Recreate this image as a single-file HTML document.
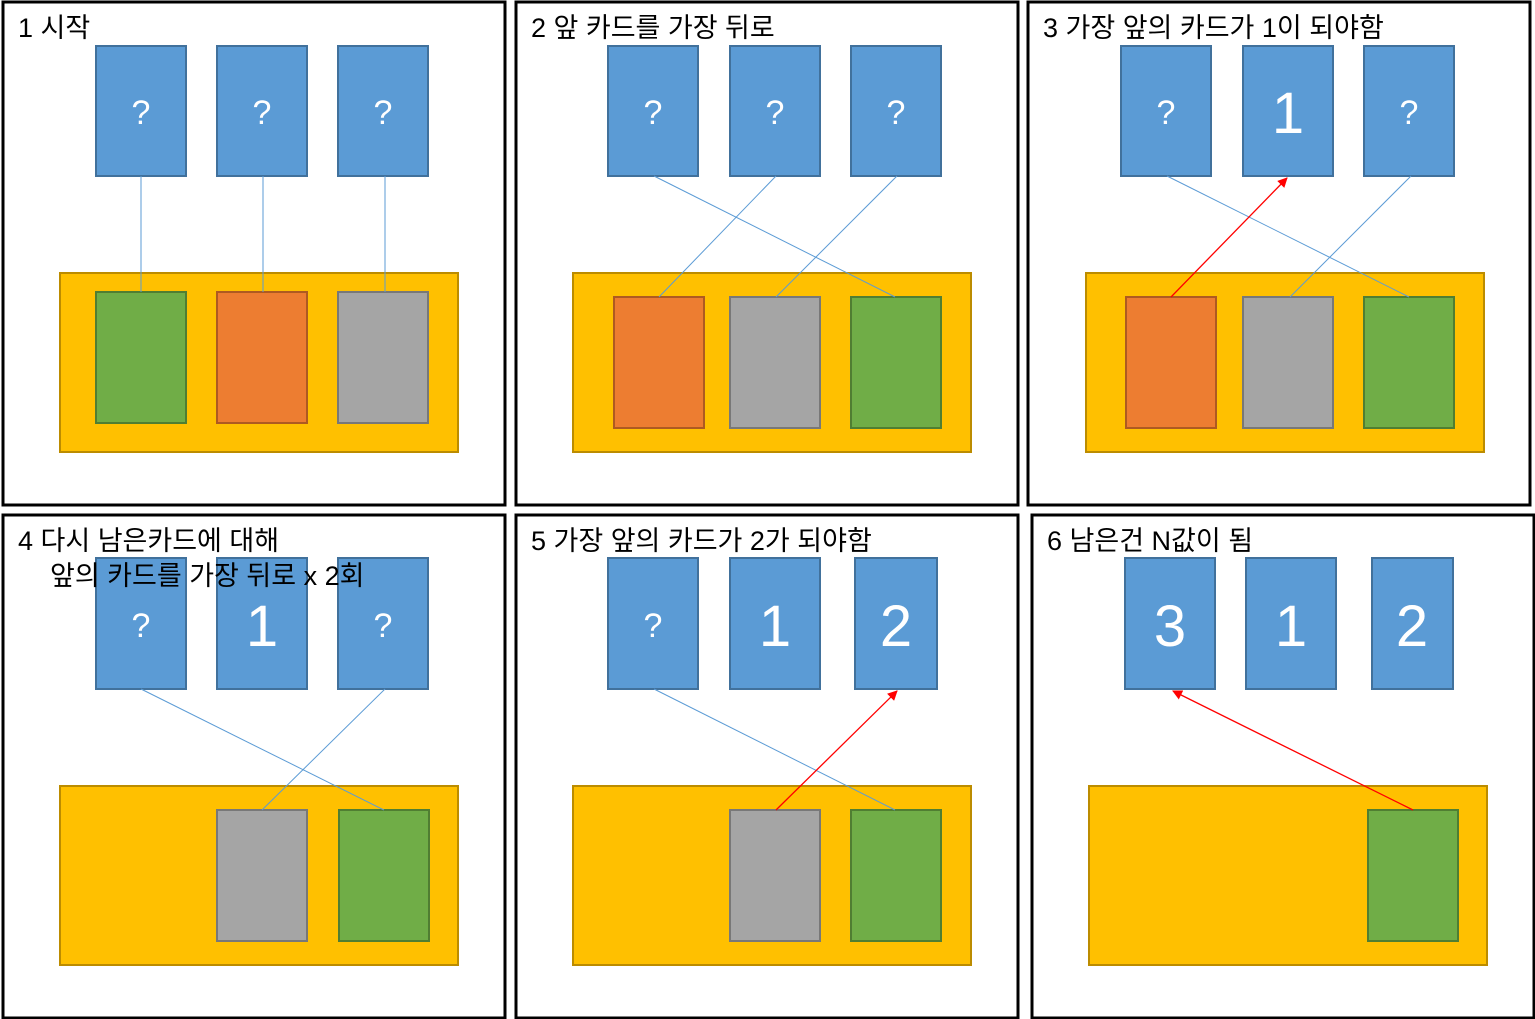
<!DOCTYPE html>
<html><head><meta charset="utf-8"><style>
html,body{margin:0;padding:0;background:#fff;width:1535px;height:1019px;overflow:hidden}
text{font-family:"Liberation Sans","Noto Sans CJK KR","NanumGothic",sans-serif}
.t{font-size:27px;fill:#000}
.q{font-size:34px;fill:#fff;text-anchor:middle}
.n{font-size:58px;fill:#fff;text-anchor:middle}
.b{fill:#5b9bd5;stroke:#41719c;stroke-width:2}
.y{fill:#ffc000;stroke:#bc8c00;stroke-width:2}
.g{fill:#70ad47;stroke:#507e32;stroke-width:2}
.o{fill:#ed7d31;stroke:#ae5a21;stroke-width:2}
.s{fill:#a5a5a5;stroke:#787878;stroke-width:2}
.p{fill:none;stroke:#000;stroke-width:3}
.l{stroke:#5b9bd5;stroke-width:1}
.r{stroke:#ff0000;stroke-width:1.3}
</style></head><body>
<svg width="1535" height="1019" xmlns="http://www.w3.org/2000/svg">
<defs><marker id="a" markerWidth="10" markerHeight="10" refX="9" refY="5" orient="auto" markerUnits="userSpaceOnUse"><path d="M0,0 L10,5 L0,10z" fill="#ff0000"/></marker></defs>
<rect class="p" x="3" y="2" width="502" height="503"/>
<rect class="p" x="516" y="2" width="502" height="503"/>
<rect class="p" x="1028" y="2" width="502" height="503"/>
<rect class="p" x="3" y="515" width="502" height="503"/>
<rect class="p" x="516" y="515" width="502" height="503"/>
<rect class="p" x="1032" y="515" width="502" height="503"/>

<!-- P1 -->
<text class="t" x="18" y="37">1 시작</text>
<rect class="b" x="96" y="46" width="90" height="130"/><text class="q" x="141" y="124">?</text>
<rect class="b" x="217" y="46" width="90" height="130"/><text class="q" x="262" y="124">?</text>
<rect class="b" x="338" y="46" width="90" height="130"/><text class="q" x="383" y="124">?</text>
<rect class="y" x="60" y="273" width="398" height="179"/>
<rect class="g" x="96" y="292" width="90" height="131"/>
<rect class="o" x="217" y="292" width="90" height="131"/>
<rect class="s" x="338" y="292" width="90" height="131"/>
<line class="l" x1="141" y1="176" x2="141" y2="292" stroke="#6c8fb0"/>
<line class="l" x1="263" y1="176" x2="263" y2="292"/>
<line class="l" x1="385" y1="176" x2="385" y2="292"/>

<!-- P2 -->
<text class="t" x="531" y="37">2 앞 카드를 가장 뒤로</text>
<rect class="b" x="608" y="46" width="90" height="130"/><text class="q" x="653" y="124">?</text>
<rect class="b" x="730" y="46" width="90" height="130"/><text class="q" x="775" y="124">?</text>
<rect class="b" x="851" y="46" width="90" height="130"/><text class="q" x="896" y="124">?</text>
<rect class="y" x="573" y="273" width="398" height="179"/>
<rect class="o" x="614" y="297" width="90" height="131"/>
<rect class="s" x="730" y="297" width="90" height="131"/>
<rect class="g" x="851" y="297" width="90" height="131"/>
<line class="l" x1="654" y1="176" x2="895" y2="297"/>
<line class="l" x1="776" y1="176" x2="659" y2="297"/>
<line class="l" x1="897" y1="176" x2="776" y2="297"/>

<!-- P3 -->
<text class="t" x="1043" y="37">3 가장 앞의 카드가 1이 되야함</text>
<rect class="b" x="1121" y="46" width="90" height="130"/><text class="q" x="1166" y="124">?</text>
<rect class="b" x="1243" y="46" width="90" height="130"/><text class="n" x="1288" y="133">1</text>
<rect class="b" x="1364" y="46" width="90" height="130"/><text class="q" x="1409" y="124">?</text>
<rect class="y" x="1086" y="273" width="398" height="179"/>
<rect class="o" x="1126" y="297" width="90" height="131"/>
<rect class="s" x="1243" y="297" width="90" height="131"/>
<rect class="g" x="1364" y="297" width="90" height="131"/>
<line class="l" x1="1167" y1="176" x2="1409" y2="297"/>
<line class="l" x1="1411" y1="176" x2="1290" y2="297"/>
<line class="r" x1="1171" y1="297" x2="1287" y2="178" marker-end="url(#a)"/>

<!-- P4 -->
<rect class="b" x="96" y="558" width="90" height="131"/><text class="q" x="141" y="637">?</text>
<rect class="b" x="217" y="558" width="90" height="131"/><text class="n" x="262" y="646">1</text>
<rect class="b" x="338" y="558" width="90" height="131"/><text class="q" x="383" y="637">?</text>
<text class="t" x="18" y="550">4 다시 남은카드에 대해</text>
<text class="t" x="50" y="585">앞의 카드를 가장 뒤로 x 2회</text>
<rect class="y" x="60" y="786" width="398" height="179"/>
<rect class="s" x="217" y="810" width="90" height="131"/>
<rect class="g" x="339" y="810" width="90" height="131"/>
<line class="l" x1="141" y1="689" x2="384" y2="810"/>
<line class="l" x1="385" y1="689" x2="262" y2="810"/>

<!-- P5 -->
<text class="t" x="531" y="550">5 가장 앞의 카드가 2가 되야함</text>
<rect class="b" x="608" y="558" width="90" height="131"/><text class="q" x="653" y="637">?</text>
<rect class="b" x="730" y="558" width="90" height="131"/><text class="n" x="775" y="646">1</text>
<rect class="b" x="855" y="558" width="82" height="131"/><text class="n" x="896" y="646">2</text>
<rect class="y" x="573" y="786" width="398" height="179"/>
<rect class="s" x="730" y="810" width="90" height="131"/>
<rect class="g" x="851" y="810" width="90" height="131"/>
<line class="l" x1="654" y1="689" x2="895" y2="810"/>
<line class="r" x1="776" y1="810" x2="897" y2="691" marker-end="url(#a)"/>

<!-- P6 -->
<text class="t" x="1047" y="550">6 남은건 N값이 됨</text>
<rect class="b" x="1125" y="558" width="90" height="131"/><text class="n" x="1170" y="646">3</text>
<rect class="b" x="1246" y="558" width="90" height="131"/><text class="n" x="1291" y="646">1</text>
<rect class="b" x="1372" y="558" width="81" height="131"/><text class="n" x="1412" y="646">2</text>
<rect class="y" x="1089" y="786" width="398" height="179"/>
<rect class="g" x="1368" y="810" width="90" height="131"/>
<line class="r" x1="1413" y1="810" x2="1173" y2="691" marker-end="url(#a)"/>
</svg>
</body></html>
